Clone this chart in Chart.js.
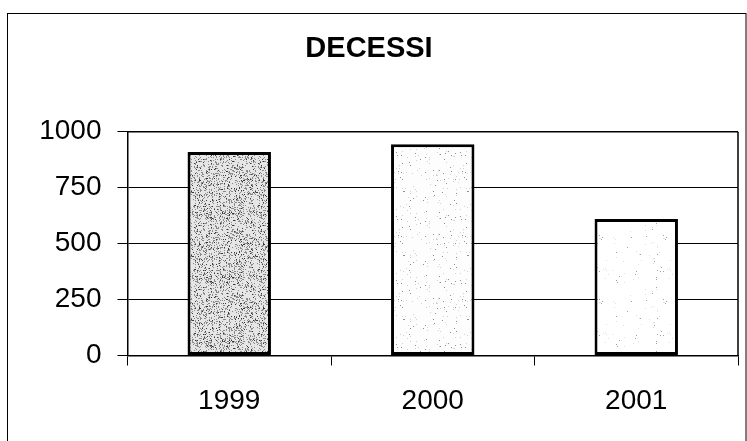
<!DOCTYPE html>
<html>
<head>
<meta charset="utf-8">
<script src="https://cdn.jsdelivr.net/npm/chart.js@4"></script>
<style>
  html, body { margin: 0; padding: 0; background: #fff; }
  #c { display: block; }
</style>
</head>
<body>
<canvas id="c" width="747" height="441"></canvas>
<script>
// ---- data ----
const chartTitle = 'DECESSI';
const categories = ['1999', '2000', '2001'];
const deaths = [909, 944, 610];
const yTicks = [0, 250, 500, 750, 1000];

// ---- stipple fill patterns (styling only) ----
function makePattern(bg, layers, seed) {
  const c = document.createElement('canvas');
  c.width = 64; c.height = 64;
  const g = c.getContext('2d');
  g.fillStyle = bg; g.fillRect(0, 0, 64, 64);
  let s = seed >>> 0;
  const rnd = () => { s = (s * 1664525 + 1013904223) >>> 0; return s / 4294967296; };
  for (let y = 0; y < 64; y++) {
    for (let x = 0; x < 64; x++) {
      for (const [col, dens] of layers) {
        if (rnd() < dens) { g.fillStyle = col; g.fillRect(x, y, 1, 1); break; }
      }
    }
  }
  return g.createPattern(c, 'repeat');
}
const ctx = document.getElementById('c').getContext('2d');
const fills = [
  makePattern('#e6e6e6', [['#3a3a3a', 0.05], ['#8a8a8a', 0.22]], 12345),
  makePattern('#fdfdfd', [['#909090', 0.012], ['#d2d2d2', 0.02]], 777),
  makePattern('#ffffff', [['#a0a0a0', 0.005], ['#e0e0e0', 0.01]], 4242)
];

const frame = {
  id: 'frame',
  beforeDraw(chart) {
    const c = chart.ctx;
    c.save();
    c.strokeStyle = '#000';
    c.lineWidth = 1;
    c.strokeRect(7.5, 13.5, 738.5, 440);
    c.restore();
  },
  afterDatasetsDraw(chart) {
    const a = chart.chartArea;
    const c = chart.ctx;
    c.save();
    c.strokeStyle = '#000';
    c.lineWidth = 1.5;
    c.beginPath();
    c.moveTo(a.right, a.top); c.lineTo(a.right, a.bottom);
    c.moveTo(a.left, a.top); c.lineTo(a.right, a.top);
    c.stroke();
    c.restore();
  }
};

const FONT = "'Liberation Sans', Arial, sans-serif";

new Chart(ctx, {
  type: 'bar',
  data: {
    labels: categories,
    datasets: [{
      data: deaths,
      backgroundColor: fills,
      borderColor: '#000',
      borderWidth: 3,
      borderSkipped: false,
      categoryPercentage: 1,
      barPercentage: 0.41
    }]
  },
  options: {
    responsive: false,
    animation: false,
    devicePixelRatio: 1,
    layout: { padding: { top: 0, left: 0, right: 9, bottom: 0 } },
    plugins: {
      legend: { display: false },
      tooltip: { enabled: false },
      title: {
        display: true,
        text: chartTitle,
        color: '#000',
        font: { family: FONT, size: 29, weight: 'bold', lineHeight: 1.2 },
        padding: { top: 31.1, bottom: 65.8 }
      }
    },
    scales: {
      x: {
        grid: { offset: true, drawOnChartArea: false, drawTicks: true, tickLength: 10, color: '#000', lineWidth: 1 },
        border: { display: true, color: '#000', width: 1.5 },
        ticks: { color: '#000', font: { family: FONT, size: 28 }, padding: 19, maxRotation: 0 },
        afterFit(scale) { scale.height = 85.5; }
      },
      y: {
        min: 0,
        max: 1000,
        afterBuildTicks(scale) { scale.ticks = yTicks.map(v => ({ value: v })); },
        grid: { color: '#000', lineWidth: 1, drawTicks: true, tickLength: 10 },
        border: { display: true, color: '#000', width: 1.5 },
        ticks: { color: '#000', font: { family: FONT, size: 28 }, padding: 16, callback: v => String(v) },
        afterFit(scale) { scale.width = 127.5; }
      }
    }
  },
  plugins: [frame]
});
</script>
</body>
</html>
